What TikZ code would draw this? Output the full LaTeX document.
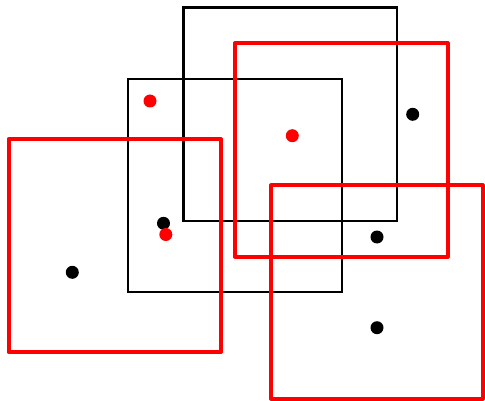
\documentclass[tikz,border=0pt]{standalone}
\begin{document}
\begin{tikzpicture}[x=1pt,y=-1pt,
  blackbox/.style={draw=black,line width=2.2pt},
  redbox/.style={draw=red,line width=4pt,line join=round},
  bdot/.style={circle,fill=black,inner sep=0pt,minimum size=13pt},
  rdot/.style={circle,fill=red,inner sep=0pt,minimum size=13pt}]
\useasboundingbox (0,0) rectangle (485,401);
\draw[blackbox] (183.5,7.5) rectangle (397,220.7);
\draw[blackbox] (128,79) rectangle (341.7,292);
\draw[redbox] (235,43) rectangle (447.5,256.5);
\draw[redbox] (8.5,139) rectangle (221,352);
\draw[redbox] (270.7,185.5) rectangle (482.7,398.5);
\node[bdot] (b1) at (412.7,114.3) {};
\node[bdot] (b2) at (163.5,223.3) {};
\node[bdot] (b3) at (72.3,272.3) {};
\node[bdot] (b4) at (377,237) {};
\node[bdot] (b5) at (377,327.7) {};
\node[rdot] (r1) at (150,101) {};
\node[rdot] (r2) at (292.3,135.7) {};
\node[rdot] (r3) at (165.8,234.5) {};
\end{tikzpicture}
\end{document}
